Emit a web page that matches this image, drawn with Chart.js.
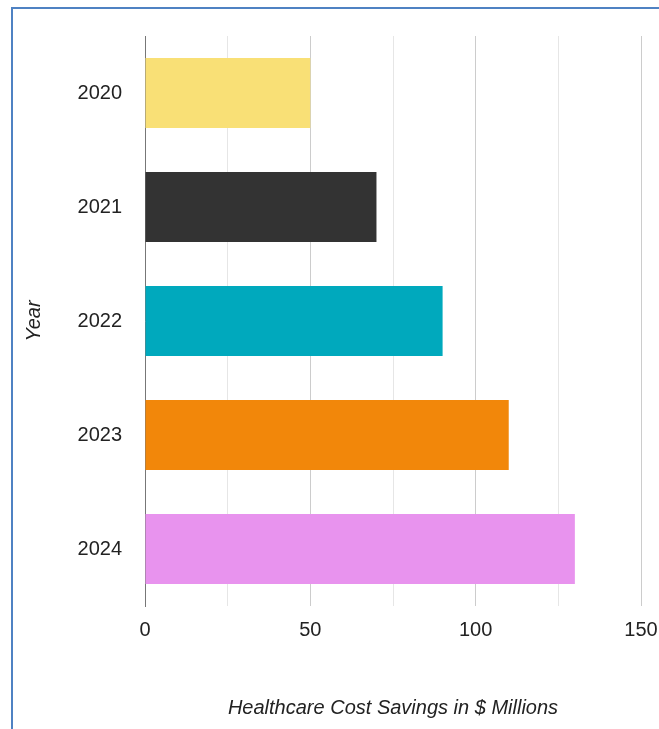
<!DOCTYPE html>
<html>
<head>
<meta charset="utf-8">
<script src="https://cdn.jsdelivr.net/npm/chart.js@4/dist/chart.umd.min.js"></script>
<style>
  html, body { margin: 0; padding: 0; background: #fff; overflow: hidden; }
  .frame { position: absolute; left: 11px; top: 7px; width: 700px; height: 800px;
           border-left: 2px solid #4f82c3; border-top: 2px solid #4f82c3; }
  #chart { position: absolute; left: 0; top: 0; }
</style>
</head>
<body>
<div class="frame"></div>
<canvas id="chart" width="659" height="729"></canvas>
<script>
const years = ['2020', '2021', '2022', '2023', '2024'];
const savings = [50, 70, 90, 110, 130];
const barColors = ['#f9e076', '#333333', '#00a9bd', '#f2870a', '#e893ee'];
const xTicks = [0, 25, 50, 75, 100, 125, 150];

document.addEventListener('DOMContentLoaded', () => {
    const ctx = document.getElementById('chart').getContext('2d');
    const font = { family: 'Arial, "Liberation Sans", sans-serif', size: 20 };

    new Chart(ctx, {
        type: 'bar',
        data: {
            labels: years,
            datasets: [{
                label: 'Healthcare Cost Savings',
                data: savings,
                backgroundColor: barColors,
                borderWidth: 0,
                categoryPercentage: 1,
                barPercentage: 0.616
            }]
        },
        options: {
            indexAxis: 'y',
            responsive: false,
            animation: false,
            layout: { padding: { top: 36, right: 18, left: 0, bottom: 0 } },
            plugins: {
                legend: { display: false },
                tooltip: { enabled: false }
            },
            scales: {
                x: {
                    min: 0,
                    max: 150,
                    afterBuildTicks: scale => { scale.ticks = xTicks.map(v => ({ value: v })); },
                    afterFit: scale => {
                        scale.height = 123;
                        // let the "150" label hang over the edge like the original
                        scale.paddingLeft = 0;
                        scale.paddingRight = 0;
                    },
                    grid: {
                        drawTicks: false,
                        color: c => (c.tick && c.tick.value % 50 === 0) ? '#cccccc' : '#e6e6e6',
                        lineWidth: 1
                    },
                    border: { display: false },
                    ticks: {
                        padding: 12,
                        color: '#222',
                        font: font,
                        callback: v => (v % 50 === 0 ? v : '')
                    },
                    title: {
                        display: true,
                        text: 'Healthcare Cost Savings in $ Millions',
                        color: '#222',
                        font: { ...font, style: 'italic' },
                        padding: { top: 0, bottom: 9 }
                    }
                },
                y: {
                    afterFit: scale => { scale.width = 145; },
                    grid: { display: false, drawTicks: false },
                    border: { display: true, color: '#777777', width: 1 },
                    ticks: {
                        padding: 23,
                        color: '#222',
                        font: font
                    },
                    title: {
                        display: true,
                        text: 'Year',
                        color: '#222',
                        font: { ...font, style: 'italic' },
                        padding: { top: 22, bottom: 0 }
                    }
                }
            }
        }
    });
});
</script>
</body>
</html>
